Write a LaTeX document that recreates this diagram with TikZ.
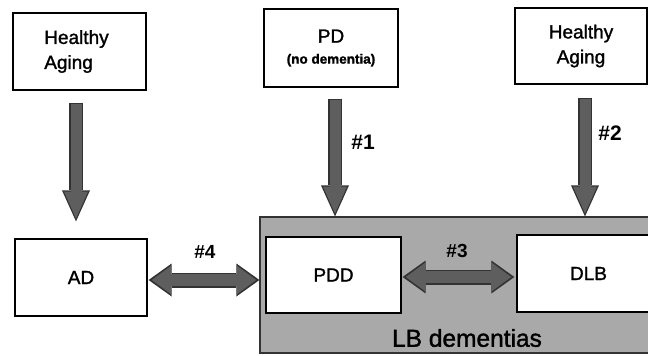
\documentclass[tikz,border=0pt]{standalone}
\usepackage{fontspec}
\setmainfont{Liberation Sans}
\newfontfamily\semibold{Liberation Sans}[FakeBold=1.4]
\usetikzlibrary{arrows.meta,calc}
\definecolor{lbgray}{HTML}{A9A9A9}
\definecolor{arrfill}{HTML}{5E5E5E}
\definecolor{arrline}{HTML}{333333}
\tikzset{
  box/.style={draw=black, line width=1.2pt, fill=white, inner sep=0pt, font=\semibold\fontsize{19}{25}\selectfont},
  groupbox/.style={draw=arrline, line width=1.2pt, fill=lbgray, inner sep=0pt},
  downout/.style={draw=arrline, line width=13.4pt, -{Triangle[width=28pt,length=31pt,line width=0pt]}},
  downin/.style={draw=arrfill, line width=11pt, shorten <=1.2pt, shorten >=2.9pt, -{Triangle[width=24pt,length=27pt,line width=0pt]}},
  dblout/.style={draw=arrline, line width=15pt, {Triangle[width=33pt,length=23pt,line width=0pt]}-{Triangle[width=33pt,length=23pt,line width=0pt]}},
  dblin/.style={draw=arrfill, line width=12.6pt, shorten <=3.2pt, shorten >=3.2pt, {Triangle[width=28pt,length=19pt,line width=0pt]}-{Triangle[width=28pt,length=19pt,line width=0pt]}},
  numlbl/.style={font=\bfseries\fontsize{21}{21}\selectfont, inner sep=0pt},
}
\begin{document}
\begin{tikzpicture}[x=1pt,y=-1pt]
\useasboundingbox (0,0) rectangle (648,356);
% top boxes
\node[box, minimum width=133pt, minimum height=77pt, align=left] (ha1) at (79.5,51.5) {Healthy\hspace*{6pt}\\Aging};
\node[box, minimum width=134pt, minimum height=78pt, align=center] (pd) at (331,48) {PD\\[-4pt]{\bfseries\fontsize{13.5}{15}\selectfont (no dementia)}};
\node[box, minimum width=132pt, minimum height=76pt, align=center] (ha2) at (581,46) {Healthy\\Aging};
% bottom
\node[groupbox, minimum width=400pt, minimum height=136pt] (lb) at (460,285) {};
\node[box, minimum width=132pt, minimum height=77pt] (ad) at (81,277.5) {AD};
\node[box, minimum width=135pt, minimum height=76pt] (pdd) at (333.5,275) {PDD};
\node[box, minimum width=143pt, minimum height=77pt] (dlb) at (588.5,273.5) {DLB};
\node[font=\semibold\fontsize{24.5}{25}\selectfont, inner sep=0pt] (lbt) at (467,338) {LB dementias};
% down arrows
\coordinate (s0) at ($(ha1.south)+(-3.5,12)$);
\coordinate (s1) at ($(pd.south)+(4,11)$);
\coordinate (s2) at ($(ha2.south)+(4,13)$);
\coordinate (e0) at ($(s0 |- ad.north)+(0,-17)$);
\draw[downout] (s0) -- (e0);
\draw[downin] (s0) -- (e0);
\draw[downout] (s1) -- (s1 |- lb.north);
\draw[downin] (s1) -- (s1 |- lb.north);
\draw[downout] (s2) -- (s2 |- lb.north);
\draw[downin] (s2) -- (s2 |- lb.north);
% double arrows
\coordinate (d4) at ($(ad.east)+(1,2.5)$);
\coordinate (d3) at ($(pdd.east)+(1,2)$);
\coordinate (d3e) at ($(d3 -| dlb.west)+(-2,0)$);
\draw[dblout] (d4) -- (d4 -| lb.west);
\draw[dblin] (d4) -- (d4 -| lb.west);
\draw[dblout] (d3) -- (d3e);
\draw[dblin] (d3) -- (d3e);
% labels
\node[numlbl] (n1) at (363,142) {\#1};
\node[numlbl] (n2) at (610,133) {\#2};
\node[numlbl, font=\bfseries\fontsize{19}{19}\selectfont] (n3) at (457,251) {\#3};
\node[numlbl, font=\bfseries\fontsize{19}{19}\selectfont] (n4) at (205,252) {\#4};
\end{tikzpicture}
\end{document}
